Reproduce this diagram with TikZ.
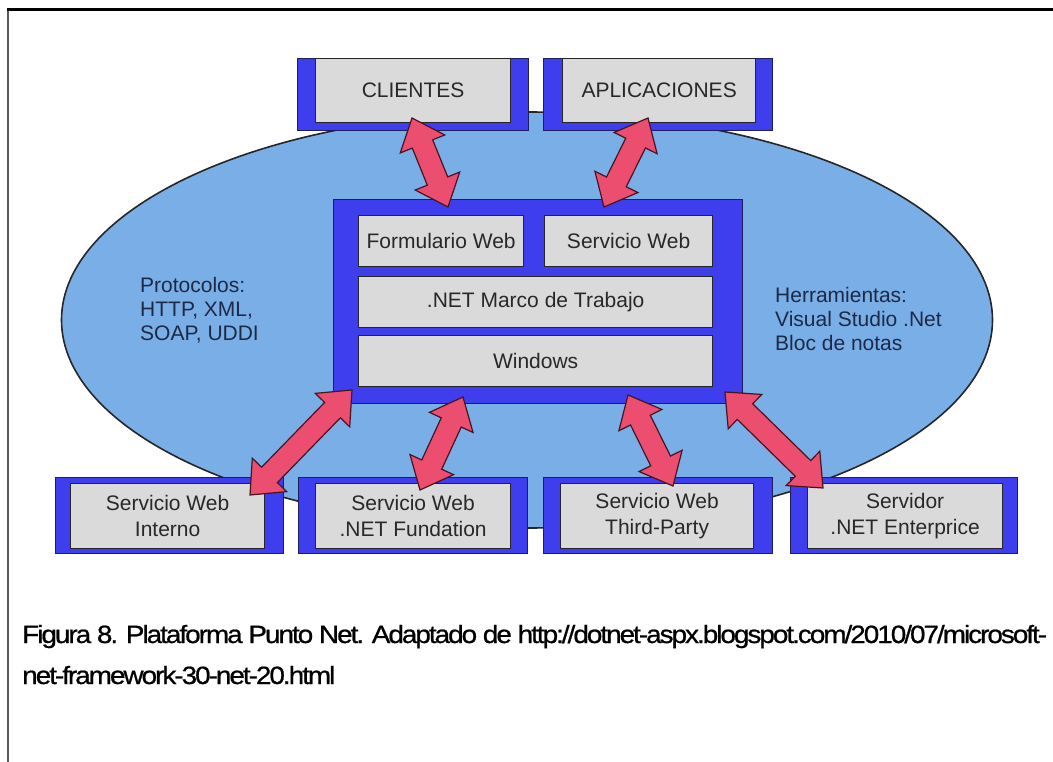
\documentclass[tikz,border=0pt]{standalone}
\usepackage{fontspec}
\setmainfont{Liberation Sans}
\newfontfamily\capfam[FakeStretch=1.25, LetterSpace=-9, FakeBold=0.8]{Liberation Sans}
\usetikzlibrary{calc,shapes.geometric}
\definecolor{ellfill}{RGB}{122,174,230}
\definecolor{band}{RGB}{62,62,238}
\definecolor{bandline}{RGB}{30,30,90}
\definecolor{greyfill}{RGB}{218,218,218}
\definecolor{arrfill}{RGB}{236,78,112}
\definecolor{arrline}{RGB}{70,20,35}
\definecolor{elltext}{RGB}{28,42,72}
\definecolor{boxtext}{RGB}{40,40,40}
\newlength\capw
\newcommand\capfont{\capfam\fontsize{25}{30}\selectfont}
\newcommand\bigarrow[2]{%
  \draw[arr] (#1)
  -- ($(#1)!28pt!(#2)!24pt!90:(#2)$)
  -- ($(#1)!28pt!(#2)!11pt!90:(#2)$)
  -- ($(#2)!28pt!(#1)!11pt!-90:(#1)$)
  -- ($(#2)!28pt!(#1)!24pt!-90:(#1)$)
  -- (#2)
  -- ($(#2)!28pt!(#1)!24pt!90:(#1)$)
  -- ($(#2)!28pt!(#1)!11pt!90:(#1)$)
  -- ($(#1)!28pt!(#2)!11pt!-90:(#2)$)
  -- ($(#1)!28pt!(#2)!24pt!-90:(#2)$)
  -- cycle;}
\begin{document}
\settowidth{\capw}{\capfont Figura 8. Plataforma Punto Net. Adaptado de http://dotnet-aspx.blogspot.com/2010/07/microsoft-}%
\pgfmathsetmacro\capf{1025/\capw}%
\begin{tikzpicture}[x=1pt,y=-1pt,
  outer/.style={draw=bandline, fill=band, line width=1pt, inner sep=0pt, anchor=north west},
  grey/.style={draw=black!85, fill=greyfill, line width=1.3pt, inner sep=0pt, anchor=north west,
     text=boxtext, font=\fontsize{21}{26}\selectfont, align=center},
  arr/.style={fill=arrfill, draw=arrline, line width=1.2pt, line join=miter},
  elltxt/.style={text=elltext, font=\fontsize{21}{24}\selectfont, align=left, inner sep=0pt, anchor=north west},
  captxt/.style={inner sep=0pt, anchor=base west, text=black}
]
\useasboundingbox (0,0) rectangle (1053,762);
% frame
\draw[black!65, line width=2pt] (8,762) -- (8,10);
\draw[black, line width=3pt] (7,10) -- (1053,10);
% ellipse
\node[draw=black!85, fill=ellfill, line width=1.6pt, ellipse, minimum width=931pt, minimum height=416pt, inner sep=0pt] (ell) at (527,320) {};
% top boxes
\node[outer, minimum width=231pt, minimum height=72pt] (cliO) at (297,58) {};
\node[grey, minimum width=195pt, minimum height=64pt] (cli) at (315,58) {CLIENTES};
\node[outer, minimum width=229pt, minimum height=72pt] (aplO) at (543,58) {};
\node[grey, minimum width=193pt, minimum height=64pt] (apl) at (562,58) {APLICACIONES};
% central
\node[outer, minimum width=409pt, minimum height=204pt] (cenO) at (333,199) {};
\node[grey, minimum width=165pt, minimum height=51pt] (form) at (358,215) {Formulario Web};
\node[grey, minimum width=168pt, minimum height=51pt] (serv) at (544,215) {Servicio Web};
\node[grey, minimum width=354pt, minimum height=51pt] (marco) at (358,276) {.NET Marco de Trabajo};
\node[grey, minimum width=354pt, minimum height=51pt] (win) at (358,335) {Windows};
% bottom
\node[outer, minimum width=228pt, minimum height=76pt] (intO) at (55,477) {};
\node[grey, minimum width=194pt, minimum height=65pt] (int) at (70,483) {Servicio Web\\Interno};
\node[outer, minimum width=229pt, minimum height=76pt] (funO) at (298,477) {};
\node[grey, minimum width=195pt, minimum height=65pt] (fun) at (315,483) {Servicio Web\\.NET Fundation};
\node[outer, minimum width=229pt, minimum height=76pt] (thiO) at (543,477) {};
\node[grey, minimum width=193pt, minimum height=65pt] (thi) at (560,483) {Servicio Web\\Third-Party};
\node[outer, minimum width=227pt, minimum height=76pt] (srvO) at (790,477) {};
\node[grey, minimum width=195pt, minimum height=65pt] (srv) at (807,483) {Servidor\\.NET Enterprice};
% ellipse texts
\node[elltxt] (proto) at (140,277) {Protocolos:\\HTTP, XML,\\SOAP, UDDI};
\node[elltxt] (herr) at (775,287) {Herramientas:\\Visual Studio .Net\\Bloc de notas};
% arrow end points
\coordinate (a1s) at (412,118); \coordinate (a1e) at (448,207);
\coordinate (a2s) at (648,118); \coordinate (a2e) at (604,207);
\coordinate (a3s) at (352,390); \coordinate (a3e) at (250,495);
\coordinate (a4s) at (463,397); \coordinate (a4e) at (420,490);
\coordinate (a5s) at (628,395); \coordinate (a5e) at (673,486);
\coordinate (a6s) at (725,392); \coordinate (a6e) at (823,488);
\bigarrow{a1s}{a1e}
\bigarrow{a2s}{a2e}
\bigarrow{a3s}{a3e}
\bigarrow{a4s}{a4e}
\bigarrow{a5s}{a5e}
\bigarrow{a6s}{a6e}
% caption
\node[captxt] (cap1) at (22,643) {\scalebox{\capf}[1]{\capfont Figura 8. Plataforma Punto Net. Adaptado de http://dotnet-aspx.blogspot.com/2010/07/microsoft-}};
\node[captxt] (cap2) at (22,684) {\scalebox{\capf}[1]{\capfont net-framework-30-net-20.html}};
\end{tikzpicture}
\end{document}
